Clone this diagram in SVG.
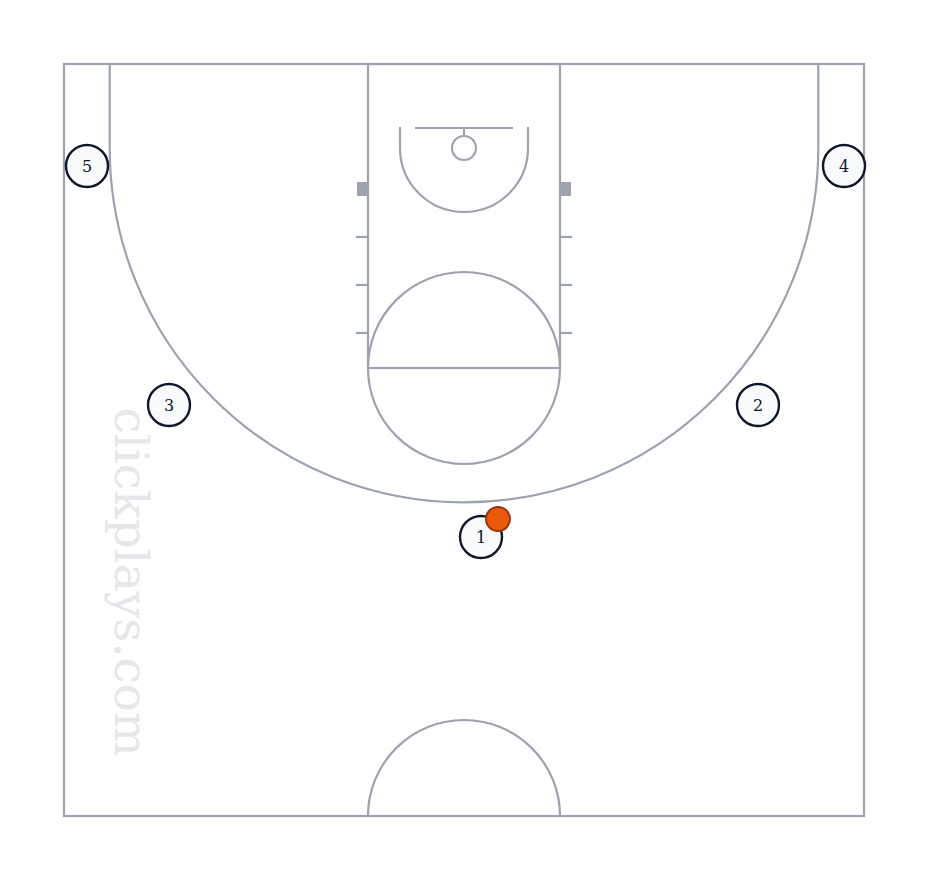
<svg xmlns="http://www.w3.org/2000/svg" width="928" height="880" viewBox="0 0 928 880">
<style>
.ln{fill:none;stroke:#9ca3af;stroke-width:2.2}
.blk{fill:#9ca3af}
.pl circle{fill:#f8fafc;stroke:#0f172a;stroke-width:2.4}
.pl text{font-family:"DejaVu Serif","Liberation Serif",serif;font-size:16px;fill:#0f172a;text-anchor:middle;dominant-baseline:central}
.wm{font-family:"DejaVu Serif","Liberation Serif",serif;font-size:47px;fill:#e5e7eb;text-anchor:middle;dominant-baseline:central}
</style>
<rect width="928" height="880" fill="#ffffff"/>
<text class="wm" transform="translate(131,582) rotate(90)">clickplays.com</text>
<g id="court">
<rect class="ln" x="64" y="64" width="800" height="752"/>
<rect class="ln" x="368" y="64" width="192" height="304"/>
<circle class="ln" cx="464" cy="368" r="96"/>
<line class="ln" x1="368" y1="368" x2="560" y2="368"/>
<line class="ln" x1="415" y1="128" x2="513" y2="128"/>
<line class="ln" x1="464" y1="128" x2="464" y2="136"/>
<circle class="ln" cx="464" cy="148" r="12"/>
<path class="ln" d="M400 127 V148 A64 64 0 0 0 528 148 V127"/>
<path class="ln" d="M109.7 64 V148 A354.3 354.3 0 0 0 818.3 148 V64"/>
<path class="ln" d="M368 816 A96 96 0 0 1 560 816"/>
<rect class="blk" x="357" y="182" width="11" height="14"/>
<rect class="blk" x="560" y="182" width="11" height="14"/>
<line class="ln" x1="356" y1="237" x2="368" y2="237"/>
<line class="ln" x1="356" y1="285" x2="368" y2="285"/>
<line class="ln" x1="356" y1="333" x2="368" y2="333"/>
<line class="ln" x1="560" y1="237" x2="572" y2="237"/>
<line class="ln" x1="560" y1="285" x2="572" y2="285"/>
<line class="ln" x1="560" y1="333" x2="572" y2="333"/>
</g>
<g id="connectors"></g>
<g id="p5" class="pl"><circle cx="87" cy="166" r="21"/><text x="87" y="166">5</text></g>
<g id="p4" class="pl"><circle cx="844" cy="166" r="21"/><text x="844" y="166">4</text></g>
<g id="p3" class="pl"><circle cx="169" cy="405" r="21"/><text x="169" y="405">3</text></g>
<g id="p2" class="pl"><circle cx="758" cy="405" r="21"/><text x="758" y="405">2</text></g>
<g id="p1" class="pl"><circle cx="481" cy="537" r="21"/><text x="481" y="537">1</text></g>
<g id="ball"><circle cx="498" cy="519" r="12" fill="#ea580c" stroke="#9a3412" stroke-width="2"/></g>
</svg>
